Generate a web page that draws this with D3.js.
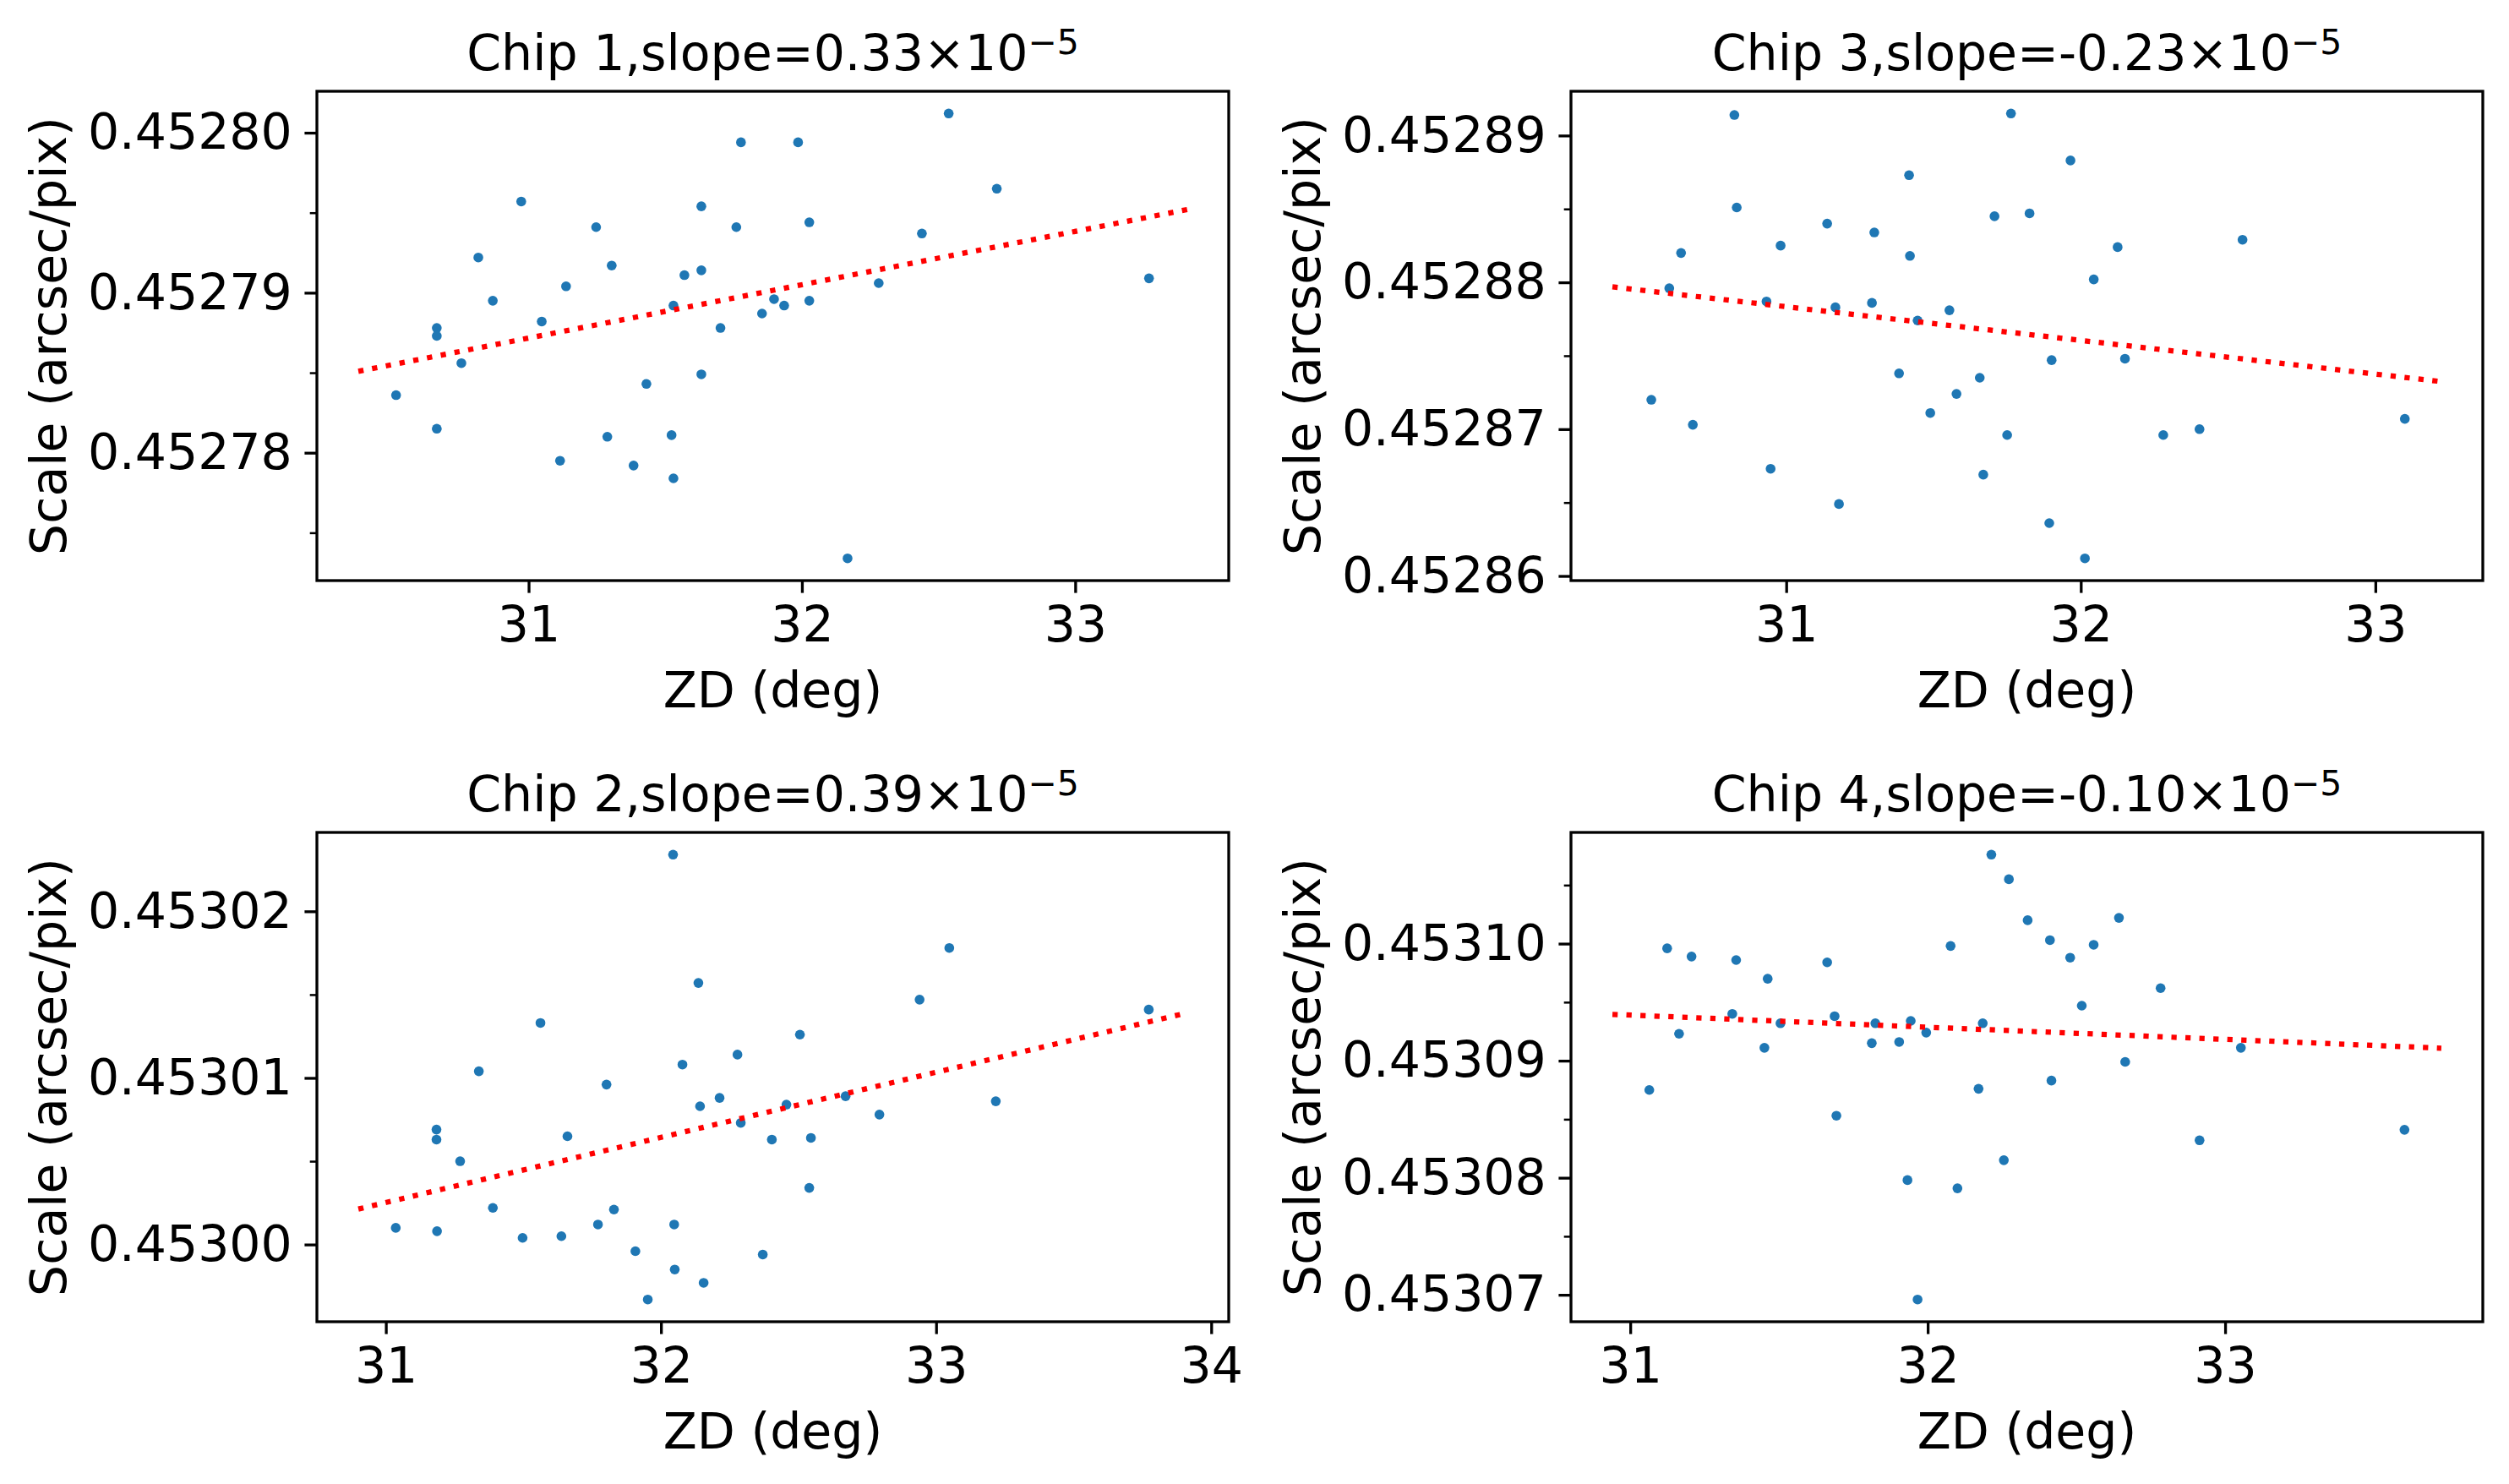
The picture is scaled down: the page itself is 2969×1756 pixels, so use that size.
<!DOCTYPE html>
<html>
<head>
<meta charset="utf-8">
<script src="https://cdn.jsdelivr.net/npm/d3@7"></script>
<style>
    body { margin: 0; background: #fff; }
    svg { display: block; font-family: 'DejaVu Sans', sans-serif; }
</style>
</head>
<body>
<div id="graph-container"></div>
<script>
// ---------------- data ----------------
const chip1ZD = [30.515, 30.664, 30.664, 30.664, 30.754, 30.816, 30.869, 30.973, 31.048, 31.137,
    31.115, 31.247, 31.304, 31.288, 31.384, 31.431, 31.523, 31.530, 31.530, 31.570,
    31.632, 31.632, 31.632, 31.702, 31.760, 31.777, 31.854, 31.898, 31.935, 31.986,
    32.027, 32.027, 32.167, 32.281, 32.439, 32.537, 32.713, 33.270];
const chip1Scale = [0.4527836, 0.4527878, 0.4527873, 0.4527815, 0.4527856, 0.4527922, 0.4527895, 0.4527957, 0.4527882, 0.4527904,
    0.4527795, 0.4527941, 0.4527917, 0.4527810, 0.4527792, 0.4527843, 0.4527811, 0.4527784, 0.4527892, 0.4527911,
    0.4527914, 0.4527954, 0.4527849, 0.4527878, 0.4527941, 0.4527994, 0.4527887, 0.4527896, 0.4527892, 0.4527994,
    0.4527944, 0.4527895, 0.4527734, 0.4527906, 0.4527937, 0.4528012, 0.4527965, 0.4527909];
const chip1FitZD = [30.377, 33.41];
const chip1FitScale = [0.45278509, 0.45279520];

const chip2ZD = [31.036, 31.184, 31.184, 31.186, 31.270, 31.338, 31.389, 31.497, 31.562, 31.638,
    31.660, 31.771, 31.802, 31.829, 31.907, 31.952, 32.044, 32.048, 32.050, 32.078,
    32.136, 32.142, 32.155, 32.213, 32.278, 32.290, 32.370, 32.403, 32.456, 32.505,
    32.545, 32.539, 32.671, 32.794, 32.940, 33.048, 33.217, 33.773];
const chip2Scale = [0.4530010, 0.4530069, 0.4530063, 0.4530008, 0.4530050, 0.4530104, 0.4530022, 0.4530004, 0.4530133, 0.4530005,
    0.4530065, 0.4530012, 0.4530096, 0.4530021, 0.4529996, 0.4529967, 0.4530234, 0.4530012, 0.4529985, 0.4530108,
    0.4530157, 0.4530083, 0.4529977, 0.4530088, 0.4530114, 0.4530073, 0.4529994, 0.4530063, 0.4530084, 0.4530126,
    0.4530064, 0.4530034, 0.4530089, 0.4530078, 0.4530147, 0.4530178, 0.4530086, 0.4530141];
const chip2FitZD = [30.90, 33.913];
const chip2FitScale = [0.45300213, 0.45301391];

const chip3ZD = [30.542, 30.603, 30.643, 30.683, 30.824, 30.832, 30.933, 30.947, 30.981, 31.139,
    31.167, 31.179, 31.291, 31.299, 31.383, 31.417, 31.420, 31.446, 31.489, 31.554,
    31.578, 31.657, 31.669, 31.707, 31.750, 31.763, 31.826, 31.901, 31.893, 31.965,
    32.014, 32.044, 32.125, 32.150, 32.280, 32.403, 32.549, 33.100];
const chip3Scale = [0.4528720, 0.4528796, 0.4528820, 0.4528703, 0.4528914, 0.4528851, 0.4528787, 0.4528673, 0.4528825, 0.4528840,
    0.4528783, 0.4528649, 0.4528786, 0.4528834, 0.4528738, 0.4528873, 0.4528818, 0.4528774, 0.4528711, 0.4528781,
    0.4528724, 0.4528735, 0.4528669, 0.4528845, 0.4528696, 0.4528915, 0.4528847, 0.4528747, 0.4528636, 0.4528883,
    0.4528612, 0.4528802, 0.4528824, 0.4528748, 0.4528696, 0.4528700, 0.4528829, 0.4528707];
const chip3FitZD = [30.41, 33.224];
const chip3FitScale = [0.45287969, 0.45287324];

const chip4ZD = [31.064, 31.124, 31.164, 31.206, 31.343, 31.356, 31.451, 31.462, 31.505, 31.662,
    31.687, 31.693, 31.812, 31.824, 31.904, 31.932, 31.943, 31.966, 31.995, 32.077,
    32.100, 32.171, 32.185, 32.214, 32.256, 32.273, 32.336, 32.411, 32.416, 32.479,
    32.518, 32.558, 32.643, 32.664, 32.783, 32.914, 33.053, 33.603];
const chip4Scale = [0.4530875, 0.4530996, 0.4530923, 0.4530989, 0.4530940, 0.4530986, 0.4530911, 0.4530970, 0.4530932, 0.4530984,
    0.4530938, 0.4530853, 0.4530915, 0.4530932, 0.4530916, 0.4530798, 0.4530934, 0.4530696, 0.4530924, 0.4530998,
    0.4530791, 0.4530876, 0.4530932, 0.4531076, 0.4530815, 0.4531055, 0.4531020, 0.4531003, 0.4530883, 0.4530988,
    0.4530947, 0.4530999, 0.4531022, 0.4530899, 0.4530962, 0.4530832, 0.4530911, 0.4530841];
const chip4FitZD = [30.94, 33.727];
const chip4FitScale = [0.45309396, 0.45309107];

const titles = ['Chip 1,slope=0.33×10', 'Chip 3,slope=-0.23×10', 'Chip 2,slope=0.39×10', 'Chip 4,slope=-0.10×10'];
const exponent = '−5';

const chip1XTicks = [31, 32, 33];
const chip2XTicks = [31, 32, 33, 34];
const chip3XTicks = [31, 32, 33];
const chip4XTicks = [31, 32, 33];

const chip1YTicks = [0.45278, 0.45279, 0.45280];
const chip1YMinor = [0.452775, 0.452785, 0.452795];
const chip2YTicks = [0.45300, 0.45301, 0.45302];
const chip2YMinor = [0.453005, 0.453015];
const chip3YTicks = [0.45286, 0.45287, 0.45288, 0.45289];
const chip3YMinor = [0.452865, 0.452875, 0.452885];
const chip4YTicks = [0.45307, 0.45308, 0.45309, 0.45310];
const chip4YMinor = [0.453075, 0.453085, 0.453095, 0.453105];

const xLabel = 'ZD (deg)';
const yLabel = 'Scale (arcsec/pix)';

// ---------------- layout ----------------
const
    WIDTH = 2969,
    HEIGHT = 1756;

const colLeft = [375, 1859],
    rowTop = [108, 985];
const plotW = 1079,
    plotH = 579;

const fontSize = 58.5;
const spineW = 3.3;

const panels = [
    { title: titles[0], zd: chip1ZD, scale: chip1Scale, fitZD: chip1FitZD, fitScale: chip1FitScale, xTicks: chip1XTicks, yTicks: chip1YTicks, yMinor: chip1YMinor, col: 0, row: 0 },
    { title: titles[1], zd: chip3ZD, scale: chip3Scale, fitZD: chip3FitZD, fitScale: chip3FitScale, xTicks: chip3XTicks, yTicks: chip3YTicks, yMinor: chip3YMinor, col: 1, row: 0 },
    { title: titles[2], zd: chip2ZD, scale: chip2Scale, fitZD: chip2FitZD, fitScale: chip2FitScale, xTicks: chip2XTicks, yTicks: chip2YTicks, yMinor: chip2YMinor, col: 0, row: 1 },
    { title: titles[3], zd: chip4ZD, scale: chip4Scale, fitZD: chip4FitZD, fitScale: chip4FitScale, xTicks: chip4XTicks, yTicks: chip4YTicks, yMinor: chip4YMinor, col: 1, row: 1 },
];

const svg = d3.select('#graph-container').append('svg')
    .attr('width', WIDTH)
    .attr('height', HEIGHT);

svg.append('rect')
    .attr('width', WIDTH)
    .attr('height', HEIGHT)
    .attr('fill', '#ffffff');

// matplotlib style 5% margins around the data
const padded = (ext) => {
    const r = ext[1] - ext[0];
    return [ext[0] - 0.05 * r, ext[1] + 0.05 * r];
};

const styleAxis = (g, w) => {
    g.select('.domain').remove();
    g.selectAll('.tick line').attr('stroke', '#000').attr('stroke-width', w);
    g.selectAll('.tick text')
        .attr('fill', '#000')
        .attr('font-size', fontSize)
        .attr('font-family', "'DejaVu Sans', sans-serif");
};

panels.forEach((p) => {
    const g = svg.append('g')
        .attr('transform', `translate(${colLeft[p.col]} ${rowTop[p.row]})`);

    const xScale = d3.scaleLinear()
        .domain(padded(d3.extent(p.zd.concat(p.fitZD))))
        .range([0, plotW]);
    const yScale = d3.scaleLinear()
        .domain(padded(d3.extent(p.scale.concat(p.fitScale))))
        .range([plotH, 0]);

    // points
    g.append('g')
        .selectAll('circle')
        .data(p.zd)
        .join('circle')
        .attr('cx', (d) => xScale(d))
        .attr('cy', (d, i) => yScale(p.scale[i]))
        .attr('r', 5.8)
        .attr('fill', '#1f77b4');

    // fitted line
    const line = d3.line()
        .x((d) => xScale(d))
        .y((d, i) => yScale(p.fitScale[i]));
    g.append('path')
        .datum(p.fitZD)
        .attr('d', line)
        .attr('fill', 'none')
        .attr('stroke', '#ff0000')
        .attr('stroke-width', 6.25)
        .attr('stroke-dasharray', '6.25 10.3');

    // axes
    const xAxis = g.append('g')
        .attr('transform', `translate(0, ${plotH})`)
        .call(d3.axisBottom(xScale).tickValues(p.xTicks).tickFormat(d3.format('d')).tickSize(14.6).tickPadding(16));
    styleAxis(xAxis, spineW);

    const yAxis = g.append('g')
        .call(d3.axisLeft(yScale).tickValues(p.yTicks).tickFormat(d3.format('.5f')).tickSize(14.6).tickPadding(14.6));
    styleAxis(yAxis, spineW);

    const yMinorAxis = g.append('g')
        .call(d3.axisLeft(yScale).tickValues(p.yMinor).tickFormat('').tickSize(8.3));
    styleAxis(yMinorAxis, 2.5);

    // frame
    g.append('rect')
        .attr('width', plotW)
        .attr('height', plotH)
        .attr('fill', 'none')
        .attr('stroke', '#000')
        .attr('stroke-width', spineW);

    // title with superscript exponent
    const title = g.append('text')
        .attr('x', plotW / 2)
        .attr('y', -25)
        .attr('text-anchor', 'middle')
        .attr('font-size', fontSize)
        .text(p.title);
    title.append('tspan')
        .attr('dy', -19)
        .attr('font-size', fontSize * 0.7)
        .text(exponent);

    g.append('text')
        .attr('x', plotW / 2)
        .attr('y', plotH + 150)
        .attr('text-anchor', 'middle')
        .attr('font-size', fontSize)
        .text(xLabel);

    g.append('text')
        .attr('transform', `translate(-297, ${plotH / 2}) rotate(-90)`)
        .attr('text-anchor', 'middle')
        .attr('font-size', fontSize)
        .text(yLabel);
});
</script>
</body>
</html>
